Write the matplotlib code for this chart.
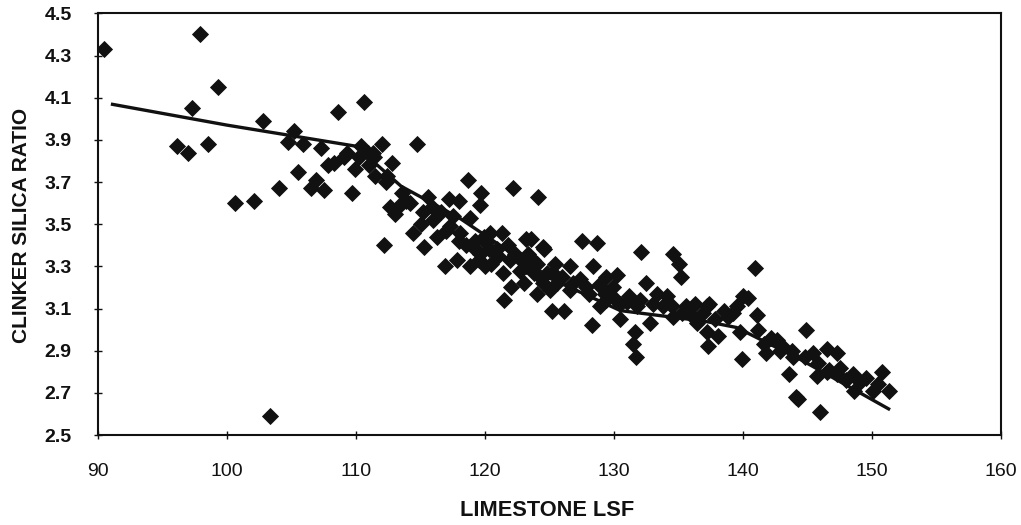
import matplotlib
matplotlib.use("Agg")
import matplotlib.pyplot as plt

plt.rcParams['font.family'] = ['Liberation Sans', 'DejaVu Sans']

# Scatter data (limestone LSF, clinker silica ratio)
lsf = [
    90.5, 97.9, 99.3, 97.3, 102.8, 108.6, 110.6, 96.1, 97.0, 98.5, 100.6, 102.1, 104.0,
    105.5, 105.2, 104.7, 105.9, 107.3, 106.5, 107.5, 106.9, 109.7, 107.8, 108.3, 109.1,
    109.3, 109.9, 110.4, 110.9, 111.4, 103.3,
    # region 112-125
    112.0, 114.7, 111.3, 112.8, 111.5, 112.4, 118.7, 122.2, 124.1, 119.7, 119.6, 112.6,
    113.4, 113.9, 113.0, 115.6, 115.9, 117.2, 118.0, 116.6, 117.5, 118.8, 115.0, 114.4,
    116.3, 117.3, 118.1, 112.2, 115.3, 116.9, 117.8, 118.8, 120.4, 121.3, 120.1, 119.6,
    120.9, 123.2, 124.5, 120.5, 121.9, 122.7, 124.0, 121.4, 124.8, 119.1, 121.5,
    # region 123-137
    127.5, 128.7, 132.1, 134.6, 135.0, 135.2, 123.6, 124.6, 123.7, 125.4, 126.6, 128.4,
    124.3, 125.6, 127.4, 129.4, 130.2, 124.0, 125.0, 126.6, 128.1, 129.9, 131.2, 132.5,
    133.3, 125.2, 126.1, 128.9, 129.4, 130.5, 131.8, 128.3, 130.5, 131.6, 131.5, 133.8,
    134.6, 132.8, 135.6, 136.4, 137.2, 134.1, 131.7,
    # region 137-152
    140.9, 137.4, 138.5, 139.5, 140.4, 140.0, 141.1, 136.9, 137.2, 138.1, 137.3, 139.9,
    139.8, 141.6, 142.6, 141.8, 144.9, 143.9, 145.4, 146.5, 147.3, 143.6, 145.7, 147.3,
    148.0, 149.1, 148.6, 150.1, 150.8, 151.3, 144.3, 146.0, 146.7, 142.9, 144.1,
    # dense band
    119.2, 119.9, 120.3, 121.0, 121.8, 122.3, 122.8, 123.2, 120.0, 119.5, 118.5, 118.0,
    117.0, 116.0, 115.2, 114.2, 113.6, 112.3, 111.0, 110.2, 123.0, 123.8, 124.5, 125.3,
    126.0, 126.8, 127.8, 128.8, 129.3, 130.0, 131.0, 132.0, 133.0, 134.5, 135.3, 136.0,
    136.3, 137.8, 138.8, 139.2, 141.2, 142.2, 143.0, 143.8, 144.8, 145.8, 146.5, 147.5,
    148.5, 149.5, 150.5, 122.0, 123.3,
]
silica_ratio = [
    4.33, 4.40, 4.15, 4.05, 3.99, 4.03, 4.08, 3.87, 3.84, 3.88, 3.60, 3.61, 3.67,
    3.75, 3.94, 3.89, 3.88, 3.86, 3.67, 3.66, 3.71, 3.65, 3.78, 3.79, 3.82,
    3.84, 3.76, 3.87, 3.84, 3.82, 2.59,
    3.88, 3.88, 3.84, 3.79, 3.73, 3.73, 3.71, 3.67, 3.63, 3.65, 3.59, 3.58,
    3.59, 3.61, 3.55, 3.63, 3.58, 3.62, 3.61, 3.56, 3.54, 3.53, 3.50, 3.46,
    3.44, 3.49, 3.46, 3.40, 3.39, 3.30, 3.33, 3.30, 3.46, 3.46, 3.41, 3.36,
    3.38, 3.43, 3.39, 3.31, 3.33, 3.28, 3.31, 3.27, 3.27, 3.39, 3.14,
    3.42, 3.41, 3.37, 3.36, 3.31, 3.25, 3.43, 3.38, 3.33, 3.31, 3.30, 3.30,
    3.25, 3.22, 3.24, 3.25, 3.26, 3.17, 3.19, 3.19, 3.17, 3.20, 3.16, 3.22,
    3.17, 3.09, 3.09, 3.11, 3.14, 3.12, 3.11, 3.02, 3.05, 2.99, 2.93, 3.11,
    3.06, 3.03, 3.11, 3.03, 3.11, 3.16, 2.87,
    3.29, 3.12, 3.09, 3.11, 3.15, 3.16, 3.07, 3.08, 2.99, 2.97, 2.92, 2.86,
    2.99, 2.93, 2.95, 2.89, 3.00, 2.87, 2.89, 2.91, 2.89, 2.79, 2.78, 2.79,
    2.76, 2.75, 2.71, 2.71, 2.80, 2.71, 2.67, 2.61, 2.81, 2.90, 2.68,
    3.42, 3.44, 3.38, 3.35, 3.40, 3.36, 3.33, 3.30, 3.30, 3.33, 3.40, 3.42,
    3.47, 3.52, 3.56, 3.60, 3.65, 3.70, 3.78, 3.82, 3.22, 3.27, 3.22, 3.27,
    3.25, 3.22, 3.20, 3.21, 3.17, 3.15, 3.13, 3.14, 3.12, 3.11, 3.08, 3.07,
    3.12, 3.05, 3.06, 3.08, 3.00, 2.96, 2.92, 2.90, 2.87, 2.84, 2.80, 2.82,
    2.79, 2.77, 2.74, 3.20, 3.36,
]

# Trend line
trend_x = [91.0, 100.0, 110.0, 113.5, 118.0, 124.8, 130.5, 137.0, 139.5, 144.4, 151.4]
trend_y = [4.07, 3.97, 3.87, 3.68, 3.53, 3.25, 3.09, 3.04, 3.01, 2.86, 2.62]

x_ticks = [90, 100, 110, 120, 130, 140, 150, 160]
y_ticks = [2.5, 2.7, 2.9, 3.1, 3.3, 3.5, 3.7, 3.9, 4.1, 4.3, 4.5]

fig = plt.figure(figsize=(10.21, 5.25), dpi=100)
ax = fig.add_axes([98 / 1021, 1 - 435 / 525, (1001 - 98) / 1021, (435 - 13.4) / 525])

ax.plot(trend_x, trend_y, color='#111111', lw=2.4, zorder=2, solid_capstyle='butt')
ax.plot(lsf, silica_ratio, linestyle='none', marker='D', ms=7.8,
        mfc='#111111', mec='#111111', mew=0.6, zorder=3)

ax.set_xlim(90, 160)
ax.set_ylim(2.5, 4.5)
ax.set_xticks(x_ticks)
ax.set_yticks(y_ticks)
ax.set_yticklabels([f"{v:.1f}" for v in y_ticks])
for s in ax.spines.values():
    s.set_linewidth(1.5)
    s.set_color('#111111')
ax.tick_params(direction='inout', length=6, width=1, color='#111111',
               labelsize=14, labelcolor='#111111')
ax.tick_params(axis='x', pad=17)
ax.tick_params(axis='y', pad=16)
for lab in ax.get_yticklabels():
    lab.set_fontweight('bold')

fig.text(547 / 1021, 1 - 511 / 525, 'LIMESTONE LSF', ha='center', va='center',
         fontsize=15.7, fontweight='bold', color='#111111')
fig.text(22 / 1021, 1 - 225 / 525, 'CLINKER SILICA RATIO', ha='center', va='center',
         rotation=90, fontsize=15, fontweight='bold', color='#111111')

fig.savefig('out.png', dpi=100, facecolor='white')
